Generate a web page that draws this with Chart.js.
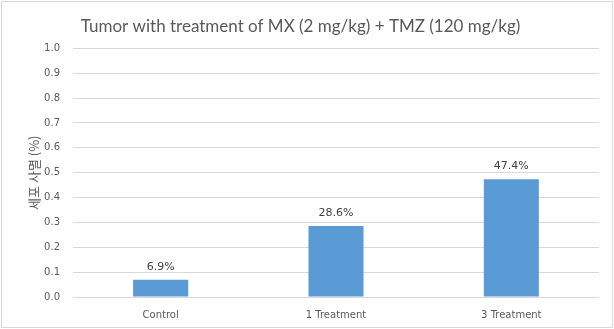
<!DOCTYPE html>
<html>
<head>
<meta charset="utf-8">
<script src="https://cdn.jsdelivr.net/npm/chart.js@4"></script>
<style>
	html, body { margin: 0; padding: 0; background: #fff; }
	#wrap { width: 614px; height: 329px; position: relative; }
</style>
</head>
<body>
<div id="wrap"><canvas id="barChart" width="614" height="329"></canvas></div>
<script>
const categories = ['Control', '1 Treatment', '3 Treatment'];
const cellDeath = [0.069, 0.286, 0.474];
const valueLabels = ['6.9%', '28.6%', '47.4%'];
const yTicks = [0, 0.1, 0.2, 0.3, 0.4, 0.5, 0.6, 0.7, 0.8, 0.9, 1.0];

const textGray = '#595959';
const gridGray = '#d9d9d9';

// light frame round the whole chart
const frame = {
	id: 'frame',
	afterDraw(chart) {
		const { ctx, width, height } = chart;
		ctx.save();
		ctx.strokeStyle = gridGray;
		ctx.lineWidth = 1;
		ctx.strokeRect(1.5, 1.5, width - 3, height - 3);
		ctx.restore();
	},
};

// value text above each bar
const barLabels = {
	id: 'barLabels',
	afterDatasetsDraw(chart) {
		const { ctx } = chart;
		const meta = chart.getDatasetMeta(0);
		ctx.save();
		ctx.fillStyle = '#404040';
		ctx.font = '11px "DejaVu Sans"';
		ctx.textAlign = 'center';
		ctx.textBaseline = 'middle';
		meta.data.forEach((bar, i) => {
			ctx.fillText(valueLabels[i], bar.x, bar.y - 13);
		});
		ctx.restore();
	},
};

const ctx = document.querySelector('#barChart');

const myChart = new Chart(ctx, {
	type: 'bar',
	data: {
		labels: categories,
		datasets: [
			{
				label: '세포 사멸',
				backgroundColor: '#5b9bd5',
				data: cellDeath,
				barPercentage: 0.314,
				categoryPercentage: 1,
			},
		],
	},
	options: {
		responsive: false,
		animation: false,
		layout: { padding: { left: 2, right: 15, top: 2, bottom: 2 } },
		plugins: {
			legend: { display: false },
			tooltip: { enabled: false },
			title: {
				display: true,
				text: 'Tumor with treatment of MX (2 mg/kg) + TMZ (120 mg/kg)',
				color: textGray,
				font: { family: 'Lato', size: 17, weight: 'normal' },
				padding: { top: 14, bottom: 12 },
			},
		},
		scales: {
			x: {
				grid: { display: false },
				border: { display: false },
				ticks: {
					color: textGray,
					font: { family: 'DejaVu Sans', size: 10 },
					padding: 4,
				},
				afterFit(scale) { scale.height = 30; },
			},
			y: {
				min: 0,
				max: 1,
				afterBuildTicks(scale) {
					scale.ticks = yTicks.map(v => ({ value: v }));
				},
				grid: { color: gridGray, drawTicks: false },
				border: { display: false },
				ticks: {
					color: textGray,
					font: { family: 'DejaVu Sans', size: 10 },
					padding: 13,
					callback: v => v.toFixed(1),
				},
				title: {
					display: true,
					text: '세포 사멸 (%)',
					color: textGray,
					font: { family: 'Noto Sans CJK KR', size: 13 },
					padding: { top: 24, bottom: 0 },
				},
				afterFit(scale) { scale.width = 71; },
			},
		},
	},
	plugins: [frame, barLabels],
});
</script>
</body>
</html>
